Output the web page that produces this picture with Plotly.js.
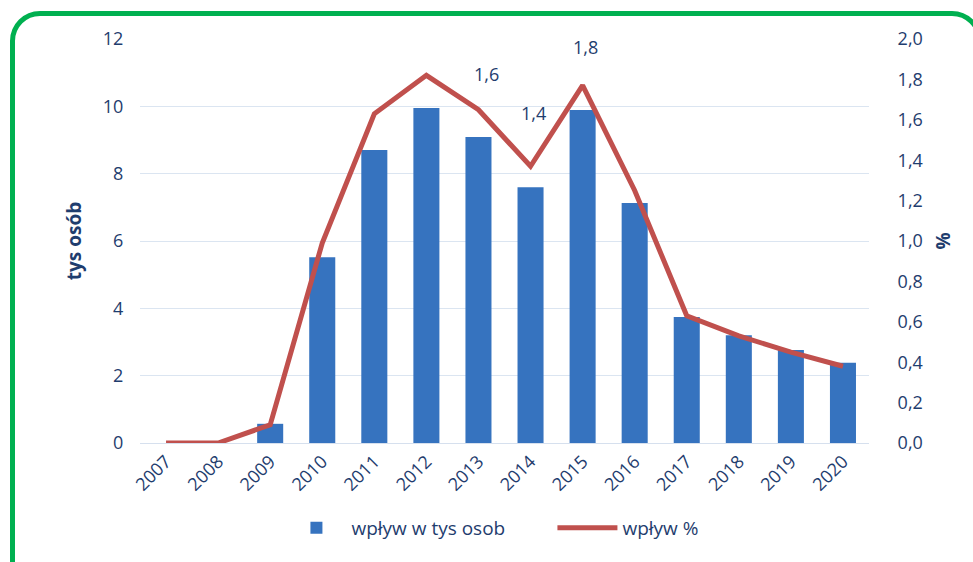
<!DOCTYPE html>
<html>
<head>
<meta charset="utf-8">
<script src="https://cdn.plot.ly/plotly-3.0.1.min.js"></script>
<style>
html,body{margin:0;padding:0;background:#fff;}
#wrap{position:relative;width:973px;height:562px;overflow:hidden;}
#chart{position:absolute;left:0;top:0;width:973px;height:562px;}
#frame{position:absolute;left:10px;top:11px;width:962px;height:590px;border:5px solid #00b050;border-radius:30px;pointer-events:none;}
</style>
</head>
<body>
<div id="wrap"><div id="chart"></div><div id="frame"></div></div>
<script>
const years = ['2007','2008','2009','2010','2011','2012','2013','2014','2015','2016','2017','2018','2019','2020'];
const inflowThousands = [0, 0, 0.57, 5.52, 8.7, 9.95, 9.09, 7.6, 9.89, 7.13, 3.74, 3.2, 2.76, 2.38];
const inflowPercent = [0, 0, 0.09, 0.99, 1.63, 1.82, 1.65, 1.37, 1.77, 1.25, 0.63, 0.53, 0.45, 0.38];
const percentLabels = [null, null, null, null, null, null, '1,6', '1,4', '1,8', null, null, null, null, null];
const barName = 'wpływ w tys osob';
const lineName = 'wpływ %';

const navy = '#1f3d6e';
const fontFam = '"Open Sans", "Liberation Sans", sans-serif';

const traces = [
  {type:'bar', x:years, y:inflowThousands, name:barName, yaxis:'y',
   marker:{color:'#3673bf', line:{width:0}}},
  {type:'scatter', mode:'lines', x:years, y:inflowPercent, name:lineName, yaxis:'y2',
   line:{color:'#c0504d', width:5}}
];

// label placement offsets (style only)
const labelShift = {'1,6':[8,36], '1,4':[3,53], '1,8':[3,38]};
const annotations = [];
percentLabels.forEach((t,i)=>{
  if(t){
    const s = labelShift[t] || [0,30];
    annotations.push({x:i, y:inflowPercent[i], xref:'x', yref:'y2', text:t,
      showarrow:false, xshift:s[0], yshift:s[1], font:{size:18, color:navy, family:fontFam}});
  }
});

const layout = {
  width:973, height:562,
  margin:{l:140, r:104, t:39, b:119},
  paper_bgcolor:'#ffffff', plot_bgcolor:'#ffffff',
  separators:',.',
  showlegend:true,
  bargap:0.5,
  font:{family:fontFam, color:navy, size:17},
  xaxis:{type:'category', tickangle:-45, showgrid:false, zeroline:false,
    range:[-0.5, years.length-0.5],
    showline:true, linecolor:'#d6e0ee', linewidth:1,
    tickfont:{size:18, color:navy}, ticks:''},
  yaxis:{range:[0,12], dtick:2, showgrid:true, gridcolor:'#dbe5f1', zeroline:false,
    tickfont:{size:18, color:navy}, ticks:'outside', ticklen:12, tickcolor:'rgba(0,0,0,0)',
    title:{text:'tys osób', font:{size:19, color:navy, family:fontFam, weight:'bold'}, standoff:16}},
  yaxis2:{overlaying:'y', side:'right', range:[0,2], dtick:0.2, tickformat:'.1f',
    showgrid:false, zeroline:false,
    tickfont:{size:18, color:navy}, ticks:'outside', ticklen:24, tickcolor:'rgba(0,0,0,0)',
    title:{text:'%', font:{size:19, color:navy, family:fontFam, weight:'bold'}, standoff:14}},
  legend:{orientation:'h', x:0.194, xanchor:'left', y:-0.21, yanchor:'middle',
    font:{size:19, color:navy}, itemwidth:60, entrywidth:196, traceorder:'normal'},
  annotations:annotations
};

Plotly.newPlot('chart', traces, layout, {displayModeBar:false, staticPlot:true});
</script>
</body>
</html>
